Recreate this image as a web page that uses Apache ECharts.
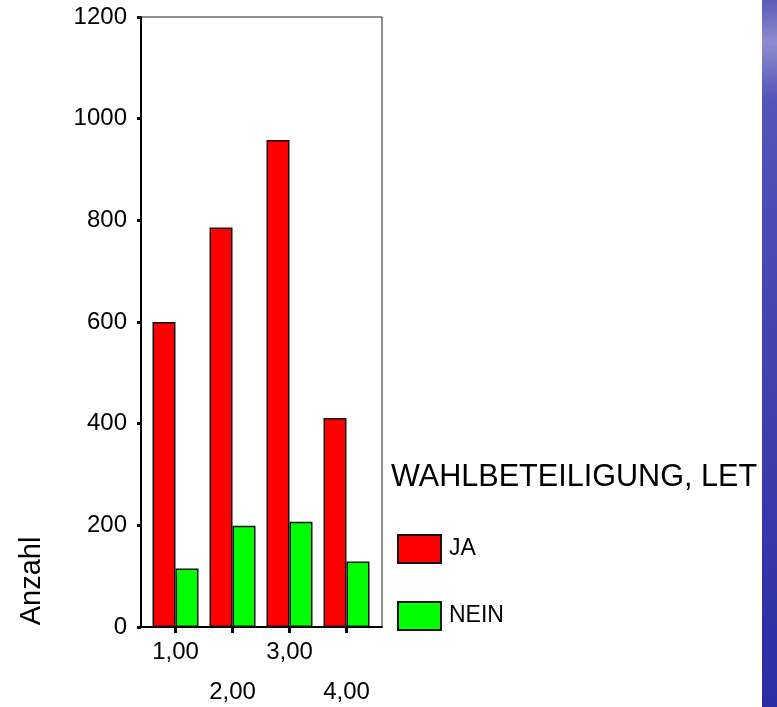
<!DOCTYPE html>
<html>
<head>
<meta charset="utf-8">
<script src="https://cdn.jsdelivr.net/npm/echarts@6/dist/echarts.min.js"></script>
<style>html,body{margin:0;padding:0;background:#fff;}#c{width:777px;height:707px;}</style>
</head>
<body>
<div id="c"></div>
<script>
const categories = ['1,00', '2,00', '3,00', '4,00'];
const jaValues = [600, 786, 958, 411];
const neinValues = [115, 199, 207, 129];
const seriesNames = ['JA', 'NEIN'];
const legendTitle = 'WAHLBETEILIGUNG, LET';
const yAxisTitle = 'Anzahl';

const FONT = "'Liberation Sans', Arial, sans-serif";
const chart = echarts.init(document.getElementById('c'), null, {renderer: 'canvas'});
chart.setOption({
  animation: false,
  backgroundColor: '#ffffff',
  title: {
    text: legendTitle, left: 391, top: 462, padding: 0,
    textStyle: {fontFamily: FONT, fontSize: 30.6, fontWeight: 'normal', color: '#000'}
  },
  legend: {
    data: seriesNames, orient: 'vertical', left: 397, top: 534, padding: 0,
    itemWidth: 43, itemHeight: 28, itemGap: 37, icon: 'rect',
    textStyle: {fontFamily: FONT, fontSize: 23, color: '#000', padding: [0, 0, 0, 3]}
  },
  grid: [
    {left: 141, top: 17, width: 241, height: 610, show: true, borderColor: '#222', borderWidth: 1, backgroundColor: 'transparent', containLabel: false, outerBoundsMode: 'none'},
    {left: 147, top: 17, width: 228, height: 610, containLabel: false, outerBoundsMode: 'none'}
  ],
  xAxis: [
    {gridIndex: 0, type: 'value', min: 0, max: 1, axisLine: {show: true, onZero: false, lineStyle: {color: '#000', width: 2}}, axisTick: {show: false}, axisLabel: {show: false}, splitLine: {show: false}},
    {gridIndex: 1, type: 'category', data: categories,
      axisLine: {show: false, onZero: false},
      axisTick: {show: true, alignWithLabel: true, length: 6, lineStyle: {color: '#000', width: 3}},
      axisLabel: {margin: 5, fontFamily: FONT, fontSize: 24, color: '#000', lineHeight: 40, interval: 0,
        formatter: function (v, i) { return i % 2 ? '\n' + v : v; }}
    }
  ],
  yAxis: [
    {gridIndex: 0, type: 'value', min: 0, max: 1200, interval: 200,
      axisLine: {show: true, lineStyle: {color: '#000', width: 2}},
      axisTick: {show: true, length: 4, lineStyle: {color: '#000', width: 3}},
      axisLabel: {margin: 14, fontFamily: FONT, fontSize: 24, color: '#000', formatter: function (v) { return String(v); }},
      splitLine: {show: false}},
    {gridIndex: 1, type: 'value', min: 0, max: 1200, show: false, splitLine: {show: false}}
  ],
  series: [
    {name: seriesNames[0], type: 'bar', xAxisIndex: 1, yAxisIndex: 1, data: jaValues, barWidth: 23, barGap: '0%',
      itemStyle: {color: '#ff0000', borderColor: '#111', borderWidth: 1.5}},
    {name: seriesNames[1], type: 'bar', xAxisIndex: 1, yAxisIndex: 1, data: neinValues, barWidth: 23, barGap: '0%',
      itemStyle: {color: '#00ff00', borderColor: '#111', borderWidth: 1.5}}
  ],
  graphic: [
    {type: 'text', x: 32, y: 581, rotation: Math.PI / 2,
      style: {text: yAxisTitle, fill: '#000', font: '29px ' + FONT, align: 'center', verticalAlign: 'middle'}},
    {type: 'rect', shape: {x: 762, y: 0, width: 15, height: 707}, z: 100,
      style: {fill: new echarts.graphic.LinearGradient(0, 0, 0, 1, [
        {offset: 0, color: '#5a5ab8'},
        {offset: 0.06, color: '#8c8cd0'},
        {offset: 0.14, color: '#5454b8'},
        {offset: 0.5, color: '#4242b0'},
        {offset: 1, color: '#2c2ca4'}
      ])}}
  ]
});
</script>
</body>
</html>
